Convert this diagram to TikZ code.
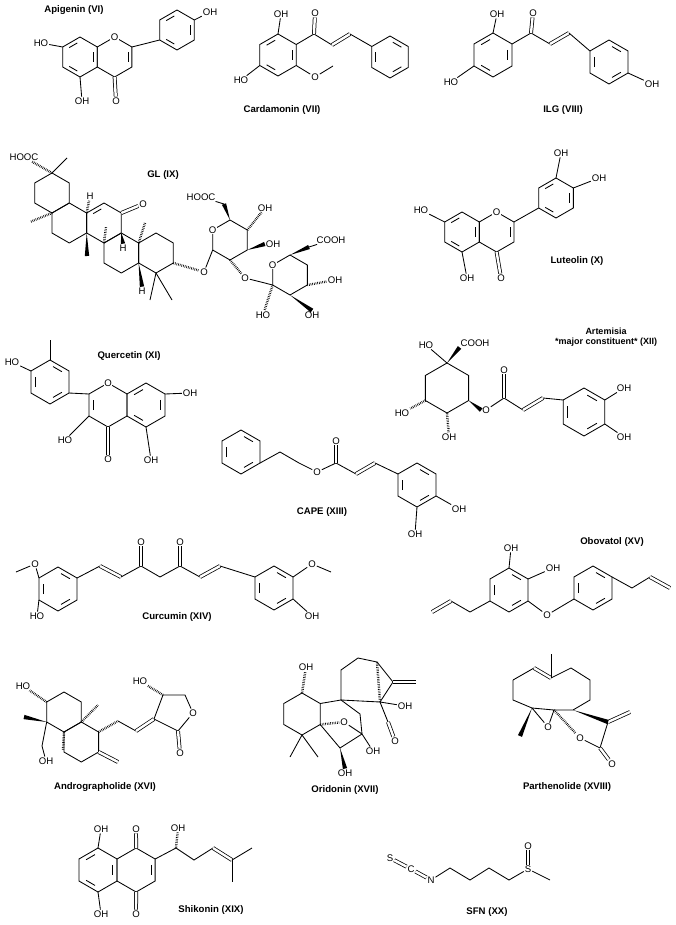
\documentclass[tikz,border=0pt]{standalone}
\usepackage{fontspec}
\setmainfont{Liberation Sans}
\usetikzlibrary{calc}

% ring of six bonds: name, x, y, radius
\newcommand\ring[4]{%
  \coordinate (#1) at (#2,#3);
  \foreach \k/\a in {1/-90,2/-30,3/30,4/90,5/150,6/210}
    \coordinate (#1\k) at ([shift={(#2,#3)}]\a:#4);
  \draw (#11)--(#12)--(#13)--(#14)--(#15)--(#16)--cycle;}
% inner line of a double bond in a ring
\newcommand\inb[3]{\draw ($(#1#2)!.2!(#1#3)!.22!(#1)$) -- ($(#1#3)!.2!(#1#2)!.22!(#1)$);}
% solid wedge
\newcommand\wdg[2]{\fill (#1) -- ($(#2)!2.2pt!90:(#1)$) -- ($(#2)!2.2pt!-90:(#1)$) -- cycle;}

\begin{document}
\begin{tikzpicture}[x=1pt, y=-1pt, line width=0.85pt,
  atom/.style={font=\fontsize{9.6}{9.6}\selectfont, inner sep=0.6pt},
  wht/.style={atom, fill=white},
  title/.style={font=\bfseries\fontsize{9.6}{11}\selectfont, align=center},
  dbl/.style={double, double distance=2.4pt, line width=0.75pt},
  hsh/.style={line width=2.4pt, dash pattern=on 0.6pt off 1.1pt}]
\useasboundingbox (0,0) rectangle (676,925);

% Apigenin
\node[title] (tapi) at (74,10) {Apigenin (VI)};
\ring{apA}{80}{57}{20} \ring{apC}{114.6}{57}{20} \ring{apB}{177}{30}{20}
\inb{apA}{2}{3} \inb{apA}{4}{5} \inb{apA}{6}{1} \inb{apC}{2}{3}
\inb{apB}{2}{3} \inb{apB}{4}{5} \inb{apB}{6}{1}
\node[wht] (apO) at (apC1) {O};
\node[atom] (apOH1) at (210,12) {OH};
\node[atom] (apHO) at (41,43) {HO};
\node[atom] (apOH2) at (82,101) {OH};
\node[atom] (apOk) at (116,101) {O};
\draw (apC2) -- (apB5);
\draw (apB2) -- (apOH1);
\draw (apA6) -- (apHO);
\draw (apA4) -- (apOH2);
\draw[dbl] (apC4) -- (apOk);

% Cardamonin
\node[title] (tcar) at (282,110) {Cardamonin (VII)};
\ring{cdA}{278}{55}{21} \ring{cdB}{390}{57}{21}
\inb{cdA}{2}{3} \inb{cdA}{4}{5} \inb{cdA}{6}{1}
\inb{cdB}{1}{2} \inb{cdB}{3}{4} \inb{cdB}{5}{6}
\coordinate (cdc1) at (314,34);
\coordinate (cdc2) at (332,45);
\coordinate (cdc3) at (350,34);
\coordinate (cdme) at (333,66);
\node[atom] (cdOH) at (281,14) {OH};
\node[atom] (cdOk) at (315,13) {O};
\node[atom] (cdOm) at (315,77) {O};
\node[atom] (cdHO) at (241,80) {HO};
\draw (cdA1) -- (cdOH);
\draw (cdA2) -- (cdc1) -- (cdc2);
\draw[dbl] (cdc1) -- (cdOk);
\draw[dbl] (cdc2) -- (cdc3);
\draw (cdc3) -- (cdB6);
\draw (cdA3) -- (cdOm) -- (cdme);
\draw (cdA5) -- (cdHO);

% ILG
\node[title] (tilg) at (563,110) {ILG (VIII)};
\ring{ilA}{493}{55}{22} \ring{ilB}{609}{62}{22}
\inb{ilA}{2}{3} \inb{ilA}{4}{5} \inb{ilA}{6}{1}
\inb{ilB}{1}{2} \inb{ilB}{3}{4} \inb{ilB}{5}{6}
\coordinate (ilc1) at (531,33);
\coordinate (ilc2) at (550,44);
\coordinate (ilc3) at (569,33);
\node[atom] (ilOH1) at (497,14) {OH};
\node[atom] (ilOk) at (533,13) {O};
\node[atom] (ilOH2) at (652,84) {OH};
\node[atom] (ilHO) at (451,82) {HO};
\draw (ilA1) -- (ilOH1);
\draw (ilA2) -- (ilc1) -- (ilc2);
\draw[dbl] (ilc1) -- (ilOk);
\draw[dbl] (ilc2) -- (ilc3);
\draw (ilc3) -- (ilB6);
\draw (ilB3) -- (ilOH2);
\draw (ilA5) -- (ilHO);

% GL
\node[title] (tgl) at (163,175) {GL (IX)};
\ring{glE}{52}{193}{20} \ring{glD}{69.3}{223}{20} \ring{glC}{104}{223}{20}
\ring{glB}{121.3}{253}{20} \ring{glA}{156}{253}{20}
\inb{glC}{6}{1}
\node[atom] (glHOOC) at (24,157) {HOOC};
\coordinate (glme1) at (67,158);
\coordinate (glme2) at (30,222);
\coordinate (glme3) at (87,256);
\coordinate (glme4) at (106,227);
\coordinate (glme5) at (145,223);
\coordinate (glme6) at (150,300);
\coordinate (glme7) at (172,300);
\node[atom] (glH1) at (90,196) {H};
\node[atom] (glH2) at (123,248) {H};
\node[atom] (glH3) at (142,291) {H};
\node[atom] (glOk) at (143,204) {O};
\draw[hsh] (glE1) -- (glHOOC);
\draw (glE1) -- (glme1);
\draw[hsh] (glD6) -- (glme2);
\draw[hsh] (glD2) -- (glH1);
\draw[dbl] (glC2) -- (glOk);
\wdg{glC5}{glme3}
\draw[hsh] (glB6) -- (glme4);
\draw[hsh] (glA6) -- (glme5);
\wdg{glB1}{glH2.north}
\wdg{glB3}{glH3.north}
\draw (glA4) -- (glme6);
\draw (glA4) -- (glme7);
% glucuronic acids
\ring{glS}{230}{240}{20} \ring{glT}{290}{275}{20}
\node[wht] (glSO) at (glS6) {O};
\node[wht] (glTO) at (glT6) {O};
\node[atom] (glO1) at (204,272) {O};
\node[atom] (glO2) at (245,278) {O};
\coordinate (glsc) at (224,204);
\node[atom] (glHOOC2) at (201,197) {HOOC};
\node[atom] (glOH1) at (265,208) {OH};
\node[atom] (glOH2) at (273,244) {OH};
\coordinate (gltc) at (309,247);
\node[atom] (glCOOH) at (331,240) {COOH};
\node[atom] (glOH3) at (335,280) {OH};
\node[atom] (glOH4) at (312,315) {OH};
\node[atom] (glHO) at (263,315) {HO};
\draw[hsh] (glA3) -- (glO1);
\draw (glO1) -- (glS5);
\wdg{glS1}{glsc}
\draw (glsc) -- (glHOOC2);
\draw[hsh] (glS2) -- (glOH1);
\wdg{glS3}{glOH2.west}
\draw[hsh] (glS4) -- (glO2);
\draw (glO2) -- (glT5);
\wdg{glT1}{gltc}
\draw (gltc) -- (glCOOH);
\draw[hsh] (glT3) -- (glOH3);
\wdg{glT4}{glOH4.north}
\draw[hsh] (glT5) -- (glHO);

% Luteolin
\node[title] (tlut) at (577,261) {Luteolin (X)};
\ring{ltA}{462}{232}{20} \ring{ltC}{496.6}{232}{20} \ring{ltB}{556}{198}{20}
\inb{ltA}{2}{3} \inb{ltA}{4}{5} \inb{ltA}{6}{1} \inb{ltC}{2}{3}
\inb{ltB}{2}{3} \inb{ltB}{4}{5} \inb{ltB}{6}{1}
\node[wht] (ltO) at (ltC1) {O};
\node[atom] (ltOH1) at (561,153) {OH};
\node[atom] (ltOH2) at (599,178) {OH};
\node[atom] (ltHO) at (421,210) {HO};
\node[atom] (ltOH3) at (467,278) {OH};
\node[atom] (ltOk) at (501,278) {O};
\draw (ltC2) -- (ltB5);
\draw (ltB1) -- (ltOH1);
\draw (ltB2) -- (ltOH2);
\draw (ltA6) -- (ltHO);
\draw (ltA4) -- (ltOH3);
\draw[dbl] (ltC4) -- (ltOk);

% Quercetin
\node[title] (tque) at (129,356) {Quercetin (XI)};
\ring{qB}{50}{382}{22} \ring{qC}{108}{405}{22} \ring{qA}{146}{405}{22}
\inb{qB}{1}{2} \inb{qB}{3}{4} \inb{qB}{5}{6} \inb{qC}{5}{6}
\inb{qA}{2}{3} \inb{qA}{4}{5} \inb{qA}{6}{1}
\node[wht] (qO) at (qC1) {O};
\coordinate (qme) at (50,340);
\node[atom] (qHO1) at (12,362) {HO};
\node[atom] (qHO2) at (65,440) {HO};
\node[atom] (qOk) at (108,459) {O};
\node[atom] (qOH1) at (151,460) {OH};
\node[atom] (qOH2) at (190,393) {OH};
\draw (qC6) -- (qB3);
\draw (qB1) -- (qme);
\draw (qB6) -- (qHO1);
\draw (qC5) -- (qHO2);
\draw[dbl] (qC4) -- (qOk);
\draw (qA4) -- (qOH1);
\draw (qA2) -- (qOH2);

% Artemisia constituent
\node[title, font=\bfseries\fontsize{9}{10.5}\selectfont] (tart) at (606,337) {Artemisia\\*major constituent* (XII)};
\ring{arR}{447}{388}{25} \ring{arB}{584}{412}{24}
\inb{arB}{1}{2} \inb{arB}{3}{4} \inb{arB}{5}{6}
\node[atom] (arHO1) at (426,345) {HO};
\node[atom] (arCOOH) at (475,343) {COOH};
\node[atom] (arO) at (486,410) {O};
\coordinate (arc1) at (504,398);
\coordinate (arc2) at (523,410);
\coordinate (arc3) at (543,398);
\node[atom] (arOk) at (504,370) {O};
\node[atom] (arOH1) at (624,388) {OH};
\node[atom] (arOH2) at (624,437) {OH};
\node[atom] (arHO2) at (402,413) {HO};
\node[atom] (arOH3) at (449,437) {OH};
\draw (arR1) -- (arHO1);
\wdg{arR1}{arCOOH.south west}
\wdg{arR3}{arO.west}
\draw (arO) -- (arc1) -- (arc2);
\draw[dbl] (arc1) -- (arOk);
\draw[dbl] (arc2) -- (arc3);
\draw (arc3) -- (arB6);
\draw (arB2) -- (arOH1);
\draw (arB3) -- (arOH2);
\draw[hsh] (arR5) -- (arHO2);
\draw[hsh] (arR4) -- (arOH3);

% CAPE
\node[title] (tcap) at (322,512) {CAPE (XIII)};
\ring{cpA}{241}{452}{22} \ring{cpB}{417}{485}{22}
\inb{cpA}{1}{2} \inb{cpA}{3}{4} \inb{cpA}{5}{6}
\inb{cpB}{1}{2} \inb{cpB}{3}{4} \inb{cpB}{5}{6}
\coordinate (cpp1) at (280,452);
\coordinate (cpp2) at (299,463);
\node[atom] (cpO) at (317,472) {O};
\coordinate (cpc) at (336,463);
\node[atom] (cpOk) at (336,441) {O};
\coordinate (cpc2) at (356,474);
\coordinate (cpc3) at (375,463);
\node[atom] (cpOH1) at (459,509) {OH};
\node[atom] (cpOH2) at (415,534) {OH};
\draw (cpA3) -- (cpp1) -- (cpp2) -- (cpO) -- (cpc) -- (cpc2);
\draw[dbl] (cpc) -- (cpOk);
\draw[dbl] (cpc2) -- (cpc3);
\draw (cpc3) -- (cpB6);
\draw (cpB3) -- (cpOH1);
\draw (cpB4) -- (cpOH2);

% Curcumin
\node[title] (tcur) at (177,617) {Curcumin (XIV)};
\ring{cuA}{58}{589}{22} \ring{cuB}{274}{588}{22}
\inb{cuA}{1}{2} \inb{cuA}{3}{4} \inb{cuA}{5}{6}
\inb{cuB}{1}{2} \inb{cuB}{3}{4} \inb{cuB}{5}{6}
\coordinate (cuk1) at (100,566);
\coordinate (cuk2) at (121,577);
\coordinate (cuk3) at (141,566);
\coordinate (cuk4) at (160,577);
\coordinate (cuk5) at (180,566);
\coordinate (cuk6) at (200,577);
\coordinate (cuk7) at (220,566);
\node[atom] (cuO1) at (141,542) {O};
\node[atom] (cuO2) at (180,542) {O};
\node[atom] (cuOm1) at (35,564) {O};
\coordinate (cume1) at (16,572);
\node[atom] (cuHO) at (37,616) {HO};
\node[atom] (cuOm2) at (312,564) {O};
\coordinate (cume2) at (331,572);
\node[atom] (cuOH) at (312,616) {OH};
\draw (cuA2) -- (cuk1);
\draw[dbl] (cuk1) -- (cuk2);
\draw (cuk2) -- (cuk3) -- (cuk4) -- (cuk5) -- (cuk6);
\draw[dbl] (cuk3) -- (cuO1);
\draw[dbl] (cuk5) -- (cuO2);
\draw[dbl] (cuk6) -- (cuk7);
\draw (cuk7) -- (cuB6);
\draw (cuA6) -- (cuOm1) -- (cume1);
\draw (cuA5) -- (cuHO);
\draw (cuB2) -- (cuOm2) -- (cume2);
\draw (cuB3) -- (cuOH);

% Obovatol
\node[title] (tobo) at (612,542) {Obovatol (XV)};
\ring{obA}{509}{590}{22} \ring{obB}{593}{588}{22}
\inb{obA}{1}{2} \inb{obA}{3}{4} \inb{obA}{5}{6}
\inb{obB}{1}{2} \inb{obB}{3}{4} \inb{obB}{5}{6}
\node[atom] (obOH1) at (511,548) {OH};
\node[atom] (obOH2) at (553,568) {OH};
\node[atom] (obO) at (547,615) {O};
\coordinate (oba1) at (632,588);
\coordinate (oba2) at (650,577);
\coordinate (oba3) at (670,588);
\coordinate (obb1) at (470,612);
\coordinate (obb2) at (451,601);
\coordinate (obb3) at (432,612);
\draw (obA1) -- (obOH1);
\draw (obA2) -- (obOH2);
\draw (obA3) -- (obO) -- (obB5);
\draw (obB2) -- (oba1) -- (oba2);
\draw[dbl] (oba2) -- (oba3);
\draw (obA5) -- (obb1) -- (obb2);
\draw[dbl] (obb2) -- (obb3);

% Andrographolide
\node[title] (tand) at (105,787) {Andrographolide (XVI)};
\ring{anL}{64}{712}{20} \ring{anR}{81.3}{742}{20}
\node[atom] (anHO1) at (23,686) {HO};
\coordinate (anme1) at (24,717);
\coordinate (anch) at (42,746);
\node[atom] (anOH) at (46,761) {OH};
\coordinate (anH) at (63,750);
\coordinate (anme2) at (98,705);
\coordinate (anc1) at (118,721);
\coordinate (anc2) at (136,731);
\coordinate (anc3) at (154,719);
\coordinate (anch2) at (118,762);
\coordinate (anl1) at (163,695);
\coordinate (anl2) at (185,695);
\node[atom] (anOl) at (193,713) {O};
\coordinate (anl3) at (178,731);
\node[atom] (anOk) at (180,753) {O};
\node[atom] (anHO2) at (140,681) {HO};
\draw[hsh] (anL6) -- (anHO1);
\wdg{anL5}{anme1}
\draw (anL5) -- (anch) -- (anOH);
\draw[hsh] (anL4) -- (anH);
\draw[hsh] (anL3) -- (anme2);
\draw[hsh] (anR2) -- (anc1);
\draw (anc1) -- (anc2);
\draw[dbl] (anc2) -- (anc3);
\draw[dbl] (anR3) -- (anch2);
\draw (anc3) -- (anl1) -- (anl2) -- (anOl) -- (anl3) -- (anc3);
\draw[dbl] (anl3) -- (anOk);
\draw[hsh] (anl1) -- (anHO2);

% Oridonin
\node[title] (tori) at (345,790) {Oridonin (XVII)};
\ring{orR}{302}{714}{21}
\node[atom] (orOH1) at (306,667) {OH};
\coordinate (orme1) at (290,757);
\coordinate (orme2) at (318,757);
\coordinate (orb1) at (341,700);
\coordinate (orb2) at (341,670);
\coordinate (orb3) at (358,658);
\coordinate (orb4) at (377,662);
\coordinate (orb5) at (393,682);
\coordinate (orch) at (416,682);
\coordinate (orb6) at (380,702);
\node[atom] (orOH2) at (405,706) {OH};
\coordinate (ore1) at (360,714);
\node[atom] (orOe) at (344,722) {O};
\coordinate (orc1) at (388,722);
\node[atom] (orOk) at (395,741) {O};
\coordinate (orc2) at (362,734);
\node[atom] (orOH3) at (373,751) {OH};
\coordinate (orc3) at (340,748);
\node[atom] (orOH4) at (345,773) {OH};
\draw[hsh] (orR1) -- (orOH1);
\draw (orR4) -- (orme1);
\draw (orR4) -- (orme2);
\draw (orR2) -- (orb1) -- (orb2) -- (orb3) -- (orb4) -- (orb5) -- (orb6) -- (orb1);
\draw[dbl] (orb5) -- (orch);
\draw[hsh] (orb4) -- (orb6);
\draw (orb6) -- (orOH2);
\draw (orb1) -- (ore1) -- (orc2);
\draw[hsh] (orR3) -- (orOe);
\draw (orOe) -- (orc2);
\draw (orb6) -- (orc1);
\draw[dbl] (orc1) -- (orOk);
\draw (orc2) -- (orOH3);
\draw (orR3) -- (orc3) -- (orc2);
\wdg{orc3}{orOH4.north}

% Parthenolide
\node[title] (tpar) at (567,787) {Parthenolide (XVIII)};
\coordinate (pa1) at (513,680);
\coordinate (pa2) at (534,668);
\coordinate (pa3) at (551,678);
\coordinate (pame) at (551,654);
\coordinate (pa4) at (571,668);
\coordinate (pa5) at (590,680);
\coordinate (pa6) at (590,700);
\coordinate (pa7) at (573,710);
\coordinate (pa8) at (554,710);
\coordinate (pa9) at (532,708);
\coordinate (pa10) at (513,700);
\node[atom] (paOe) at (548,727) {O};
\coordinate (pame2) at (520,736);
\node[atom] (paOl) at (580,738) {O};
\coordinate (palc) at (600,748);
\node[atom] (paOk) at (612,764) {O};
\coordinate (palm) at (608,722);
\coordinate (pach) at (630,712);
\draw (pa1) -- (pa2);
\draw[dbl] (pa2) -- (pa3);
\draw (pa3) -- (pame);
\draw (pa3) -- (pa4) -- (pa5) -- (pa6) -- (pa7) -- (pa8) -- (pa9) -- (pa10) -- (pa1);
\draw (pa8) -- (paOe) -- (pa9);
\wdg{pa9}{pame2}
\draw[hsh] (pa8) -- (paOl);
\draw (paOl) -- (palc) -- (palm);
\draw[dbl] (palc) -- (paOk);
\draw[dbl] (palm) -- (pach);
\wdg{pa7}{palm}

% Shikonin
\node[title] (tshi) at (211,910) {Shikonin (XIX)};
\ring{shL}{98}{870}{22} \ring{shR}{136.1}{870}{22}
\inb{shL}{2}{3} \inb{shL}{4}{5} \inb{shL}{6}{1} \inb{shR}{2}{3}
\node[atom] (shOH1) at (101,829) {OH};
\node[atom] (shOk1) at (136,829) {O};
\node[atom] (shOH2) at (101,914) {OH};
\node[atom] (shOk2) at (136,914) {O};
\coordinate (shs1) at (176,848);
\node[atom] (shOH3) at (178,828) {OH};
\coordinate (shs2) at (194,860);
\coordinate (shs3) at (213,848);
\coordinate (shs4) at (232,860);
\coordinate (shs5) at (252,848);
\coordinate (shs6) at (232,882);
\draw (shL1) -- (shOH1);
\draw[dbl] (shR1) -- (shOk1);
\draw (shL4) -- (shOH2);
\draw[dbl] (shR4) -- (shOk2);
\draw (shR2) -- (shs1) -- (shs2) -- (shs3);
\draw[hsh] (shs1) -- (shOH3);
\draw[dbl] (shs3) -- (shs4);
\draw (shs4) -- (shs5);
\draw (shs4) -- (shs6);

% SFN
\node[title] (tsfn) at (487,912) {SFN (XX)};
\node[atom] (sfS1) at (390,858) {S};
\node[atom] (sfC) at (411,869) {C};
\node[atom] (sfN) at (431,880) {N};
\coordinate (sfa1) at (450,868);
\coordinate (sfa2) at (470,880);
\coordinate (sfa3) at (489,868);
\coordinate (sfa4) at (509,880);
\node[atom] (sfS2) at (528,869) {S};
\node[atom] (sfO) at (528,846) {O};
\coordinate (sfme) at (550,880);
\draw[dbl] (sfS1) -- (sfC);
\draw[dbl] (sfC) -- (sfN);
\draw (sfN) -- (sfa1) -- (sfa2) -- (sfa3) -- (sfa4) -- (sfS2) -- (sfme);
\draw[dbl] (sfS2) -- (sfO);
\end{tikzpicture}
\end{document}
